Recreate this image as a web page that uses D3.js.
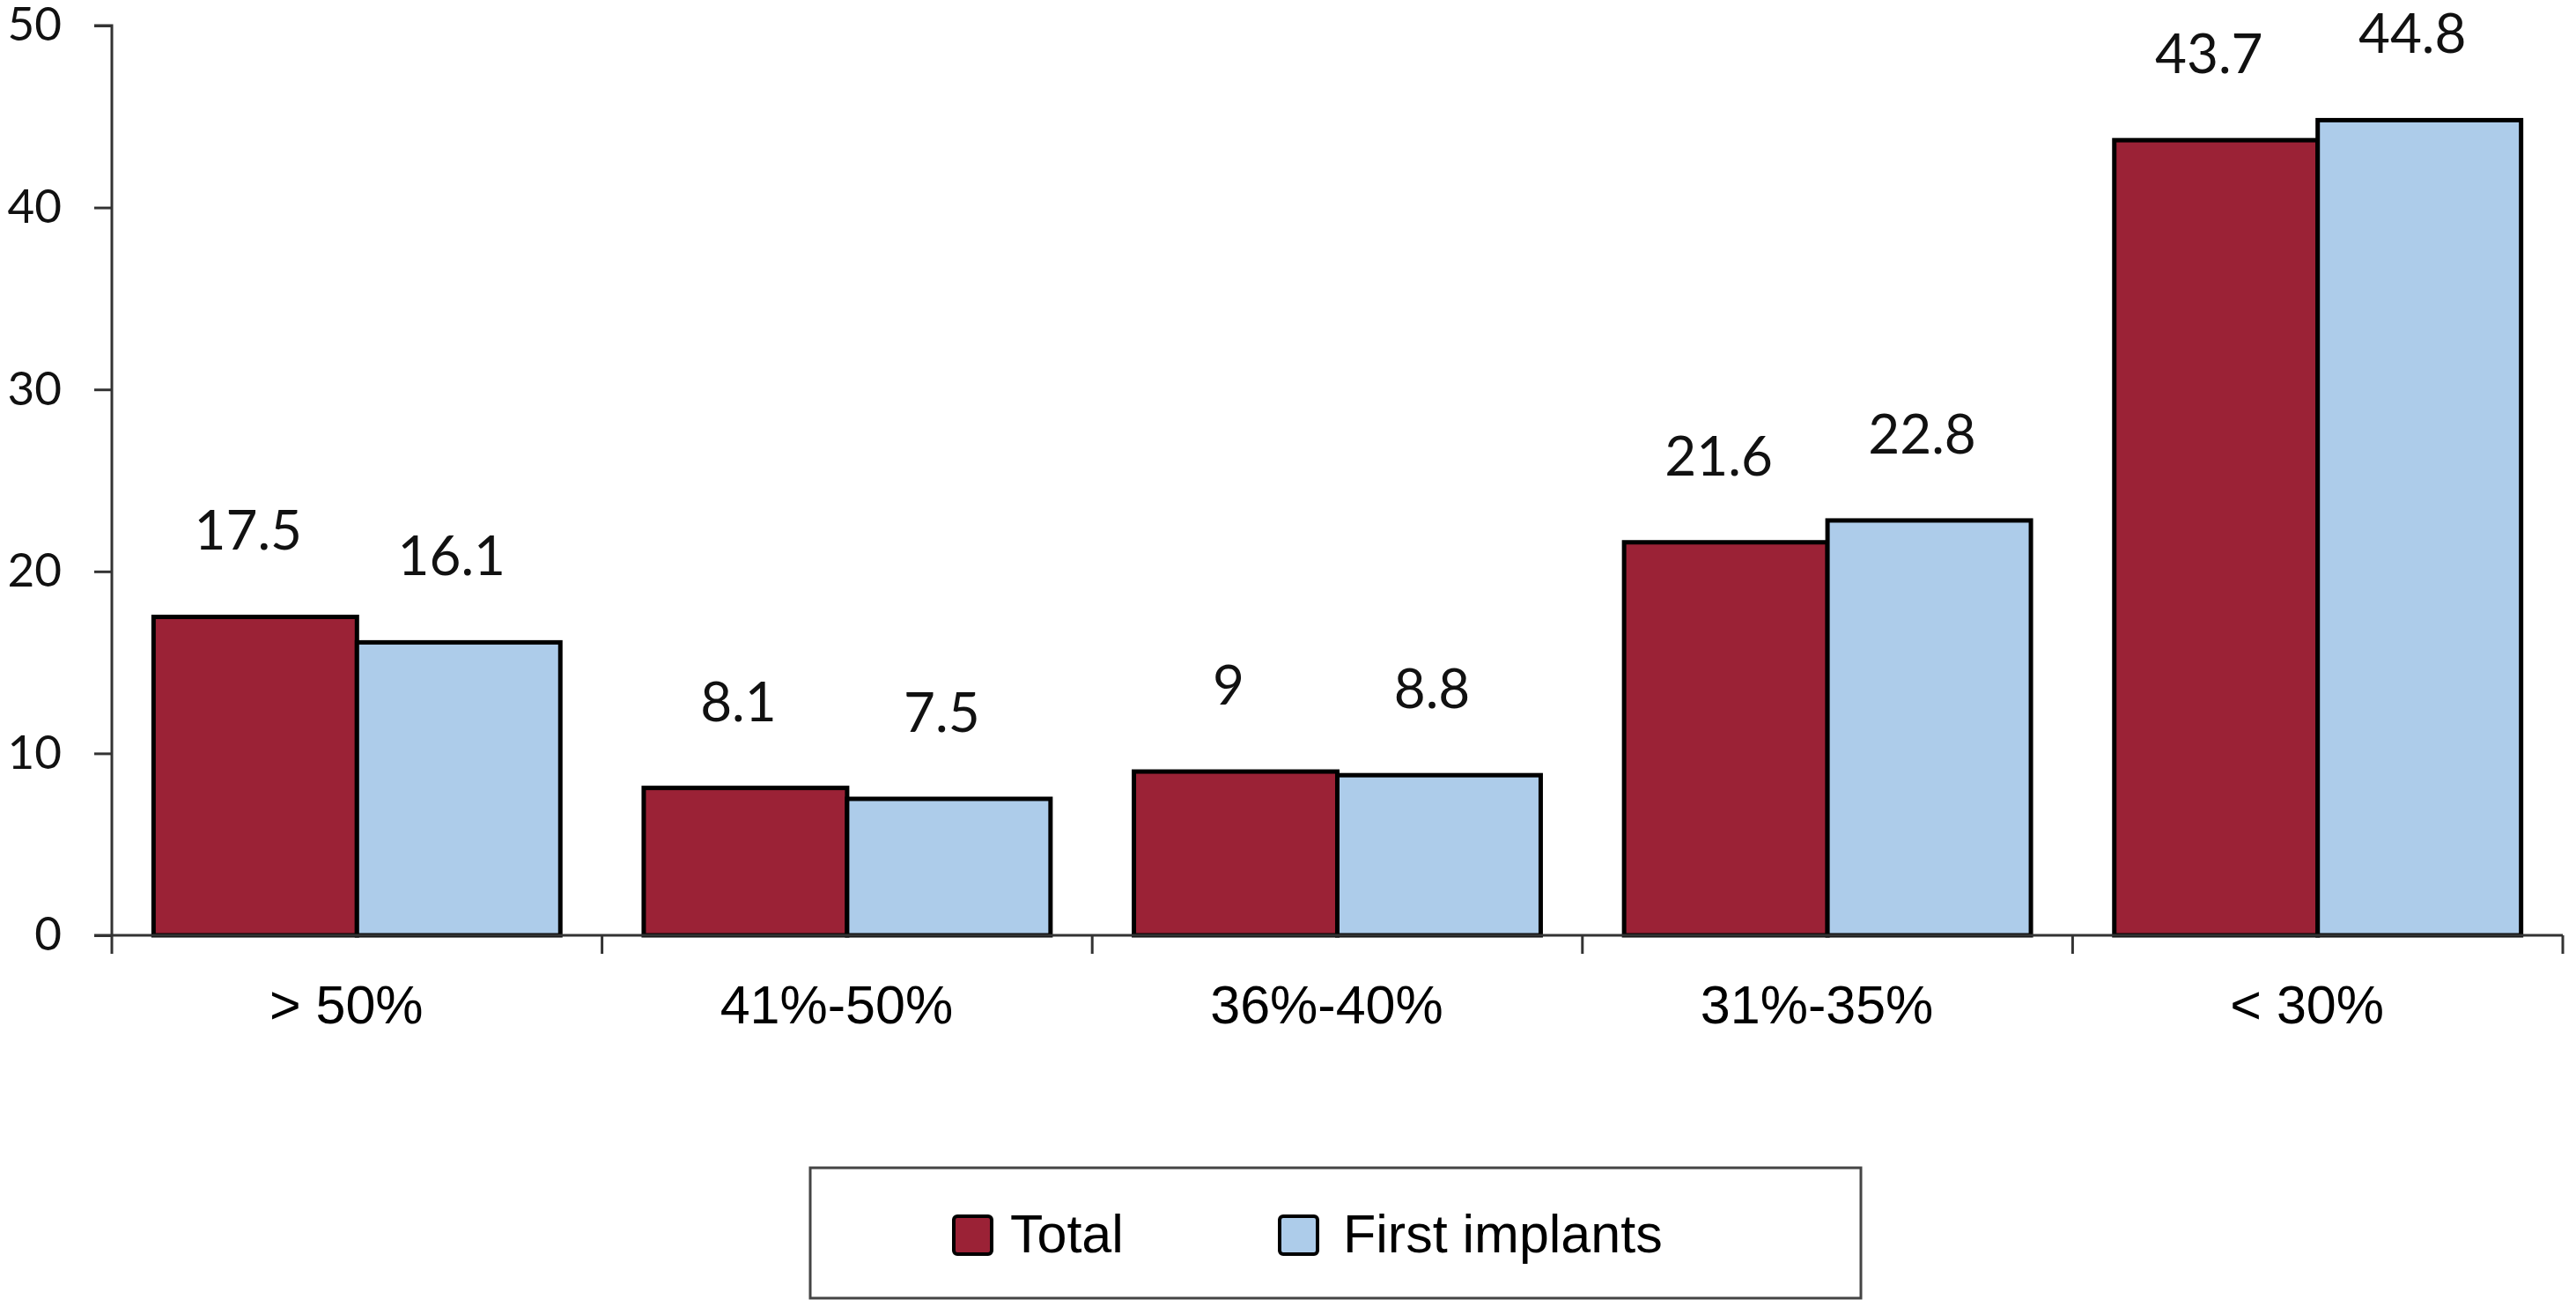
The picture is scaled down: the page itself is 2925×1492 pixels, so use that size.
<!DOCTYPE html>
<html>
<head>
<meta charset="utf-8">
<script src="https://cdn.jsdelivr.net/npm/d3@7"></script>
<style>
  html, body { margin: 0; padding: 0; background: #ffffff; }
  svg { display: block; }
</style>
</head>
<body>
<svg id="chart" width="2925" height="1492"></svg>
<script>
// ---- data ----
const categories = ["> 50%", "41%-50%", "36%-40%", "31%-35%", "< 30%"];
const seriesNames = ["Total", "First implants"];
const totalValues = [17.5, 8.1, 9, 21.6, 43.7];
const firstImplantValues = [16.1, 7.5, 8.8, 22.8, 44.8];
const yTicks = [0, 10, 20, 30, 40, 50];
const seriesColors = ["#9B2236", "#ADCCEA"];

// ---- layout ----
const svg = d3.select("#chart");
const plot = { left: 127, right: 2910, top: 29, bottom: 1062 };

const x0 = d3.scaleBand().domain(categories).range([plot.left, plot.right]).paddingInner(0).paddingOuter(0);
const x1 = d3.scaleBand().domain(seriesNames).range([0, x0.bandwidth()]).paddingInner(0).paddingOuter(0.205);
const y = d3.scaleLinear().domain([0, 50]).range([plot.bottom, plot.top]);
const color = d3.scaleOrdinal().domain(seriesNames).range(seriesColors);

const rows = categories.map((c, i) => ({
  category: c,
  values: [
    { series: seriesNames[0], value: totalValues[i] },
    { series: seriesNames[1], value: firstImplantValues[i] }
  ]
}));

// ---- bars ----
const groups = svg.append("g").selectAll("g")
  .data(rows).join("g")
  .attr("transform", d => `translate(${x0(d.category)},0)`);

groups.selectAll("rect")
  .data(d => d.values).join("rect")
  .attr("x", d => x1(d.series))
  .attr("y", d => y(d.value))
  .attr("width", x1.bandwidth())
  .attr("height", d => y(0) - y(d.value))
  .attr("fill", d => color(d.series))
  .attr("stroke", "#000")
  .attr("stroke-width", 5);

// value labels
groups.selectAll("text.val")
  .data(d => d.values).join("text")
  .attr("class", "val")
  .attr("x", d => x1(d.series) + x1.bandwidth() / 2 - 8)
  .attr("y", d => y(d.value) - 76)
  .attr("text-anchor", "middle")
  .attr("font-family", "Lato, 'Open Sans', sans-serif")
  .attr("font-size", 62)
  .attr("fill", "#111")
  .text(d => d.value);

// ---- y axis ----
const yAxis = d3.axisLeft(y).tickValues(yTicks).tickSize(20).tickPadding(37).tickFormat(d3.format("d"));
const gy = svg.append("g").attr("transform", `translate(${plot.left},0)`).call(yAxis);
gy.select(".domain").attr("stroke", "#333").attr("stroke-width", 3).attr("d", `M-20,${plot.top}H0V${plot.bottom}`);
gy.selectAll(".tick line").attr("stroke", "#333").attr("stroke-width", 3);
gy.selectAll(".tick text")
  .attr("font-family", "Lato, 'Open Sans', sans-serif")
  .attr("font-size", 53)
  .attr("fill", "#111");

// ---- x axis ----
const xAxis = d3.axisBottom(x0).tickSize(0).tickPadding(0).tickFormat("");
const gx = svg.append("g").attr("transform", `translate(0,${plot.bottom})`).call(xAxis);
gx.select(".domain").attr("stroke", "#333").attr("stroke-width", 3).attr("d", `M${plot.left - 20},0H${plot.right}`);
gx.selectAll(".tick").remove();

// category boundary ticks
const boundaries = categories.map(c => x0(c)).concat([x0(categories[categories.length - 1]) + x0.bandwidth()]);
gx.selectAll("line.bound")
  .data(boundaries).join("line")
  .attr("class", "bound")
  .attr("x1", d => d).attr("x2", d => d)
  .attr("y1", 0).attr("y2", 21)
  .attr("stroke", "#333").attr("stroke-width", 3);

// category labels
gx.selectAll("text.cat")
  .data(categories).join("text")
  .attr("class", "cat")
  .attr("x", d => x0(d) + x0.bandwidth() / 2 - 12)
  .attr("y", 100)
  .attr("text-anchor", "middle")
  .attr("font-family", "'Liberation Sans', Arial, sans-serif")
  .attr("font-size", 61)
  .attr("fill", "#000")
  .text(d => d);

// ---- legend ----
const legend = svg.append("g");
legend.append("rect")
  .attr("x", 920).attr("y", 1326).attr("width", 1193).attr("height", 148)
  .attr("fill", "#fff").attr("stroke", "#444").attr("stroke-width", 3);

const legendItems = [
  { name: seriesNames[0], sx: 1083, tx: 1147 },
  { name: seriesNames[1], sx: 1453, tx: 1525 }
];
const li = legend.selectAll("g.item").data(legendItems).join("g").attr("class", "item");
li.append("rect")
  .attr("x", d => d.sx).attr("y", 1381).attr("width", 43).attr("height", 43)
  .attr("rx", 4)
  .attr("fill", d => color(d.name))
  .attr("stroke", "#000").attr("stroke-width", 4);
li.append("text")
  .attr("x", d => d.tx).attr("y", 1422)
  .attr("font-family", "'Liberation Sans', Arial, sans-serif")
  .attr("font-size", 61)
  .attr("fill", "#000")
  .text(d => d.name);
</script>
</body>
</html>
